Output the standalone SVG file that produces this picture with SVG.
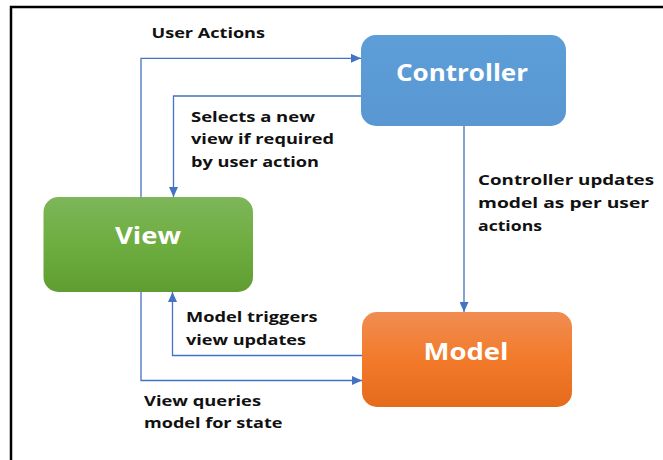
<svg xmlns="http://www.w3.org/2000/svg" width="663" height="460" viewBox="0 0 663 460">
  <style>
    .lbl { font-family: "Open Sans", "Liberation Sans", sans-serif; font-weight: bold; font-size: 15px; fill: #111; }
    .title { font-family: "Open Sans", "Liberation Sans", sans-serif; font-weight: bold; font-size: 22.5px; fill: #fff; text-anchor: middle; }
    .conn { fill: none; stroke: #4472C4; stroke-width: 1.3; }
  </style>
  <defs>
    <marker id="arrow" markerUnits="userSpaceOnUse" markerWidth="10" markerHeight="9" refX="10" refY="4.5" orient="auto">
      <path d="M0,0 L10,4.5 L0,9 z" fill="#4472C4"/>
    </marker>
    <linearGradient id="gBlue" x1="0" y1="0" x2="0" y2="1">
      <stop offset="0" stop-color="#5E9ED8"/>
      <stop offset="1" stop-color="#5897D2"/>
    </linearGradient>
    <linearGradient id="gGreen" x1="0" y1="0" x2="0" y2="1">
      <stop offset="0" stop-color="#7DB65A"/>
      <stop offset="0.5" stop-color="#6EAD3F"/>
      <stop offset="1" stop-color="#5F9D32"/>
    </linearGradient>
    <linearGradient id="gOrange" x1="0" y1="0" x2="0" y2="1">
      <stop offset="0" stop-color="#F08D52"/>
      <stop offset="0.5" stop-color="#F27A2A"/>
      <stop offset="1" stop-color="#E46B1C"/>
    </linearGradient>
  </defs>
  <rect width="663" height="460" fill="#fff"/>
  <path d="M11,460 V7 H663" fill="none" stroke="#000" stroke-width="2.5"/>

  <g id="connectors">
    <path class="conn" d="M141,197 V58.3 H361" marker-end="url(#arrow)"/>
    <path class="conn" d="M361,96 H173.5 V197" marker-end="url(#arrow)"/>
    <path class="conn" d="M464,126 V312" marker-end="url(#arrow)"/>
    <path class="conn" d="M362,355.5 H172.5 V292" marker-end="url(#arrow)"/>
    <path class="conn" d="M141,292 V380.5 H362" marker-end="url(#arrow)"/>
  </g>

  <g id="controller">
    <rect x="361" y="35" width="205" height="91" rx="15" fill="url(#gBlue)"/>
    <text class="title" x="462" y="81" textLength="132" lengthAdjust="spacingAndGlyphs">Controller</text>
  </g>
  <g id="view">
    <rect x="43.5" y="197" width="209.5" height="95" rx="15" fill="url(#gGreen)"/>
    <text class="title" x="148" y="244" textLength="66" lengthAdjust="spacingAndGlyphs">View</text>
  </g>
  <g id="model">
    <rect x="362" y="312" width="210" height="95" rx="15" fill="url(#gOrange)"/>
    <text class="title" x="466" y="360" textLength="85" lengthAdjust="spacingAndGlyphs">Model</text>
  </g>

  <g id="labels">
    <text class="lbl" x="151.5" y="38.3" textLength="113.5" lengthAdjust="spacingAndGlyphs">User Actions</text>
    <text class="lbl" x="191" y="121.7" textLength="124" lengthAdjust="spacingAndGlyphs">Selects a new</text>
    <text class="lbl" x="191" y="143.5" textLength="143" lengthAdjust="spacingAndGlyphs">view if required</text>
    <text class="lbl" x="191" y="166.5" textLength="128" lengthAdjust="spacingAndGlyphs">by user action</text>
    <text class="lbl" x="478" y="185" textLength="176" lengthAdjust="spacingAndGlyphs">Controller updates</text>
    <text class="lbl" x="478" y="208" textLength="171" lengthAdjust="spacingAndGlyphs">model as per user</text>
    <text class="lbl" x="478" y="231" textLength="64" lengthAdjust="spacingAndGlyphs">actions</text>
    <text class="lbl" x="186" y="322" textLength="131.5" lengthAdjust="spacingAndGlyphs">Model triggers</text>
    <text class="lbl" x="186" y="345" textLength="120" lengthAdjust="spacingAndGlyphs">view updates</text>
    <text class="lbl" x="144" y="405.7" textLength="117" lengthAdjust="spacingAndGlyphs">View queries</text>
    <text class="lbl" x="144" y="427.7" textLength="138.5" lengthAdjust="spacingAndGlyphs">model for state</text>
  </g>
</svg>
